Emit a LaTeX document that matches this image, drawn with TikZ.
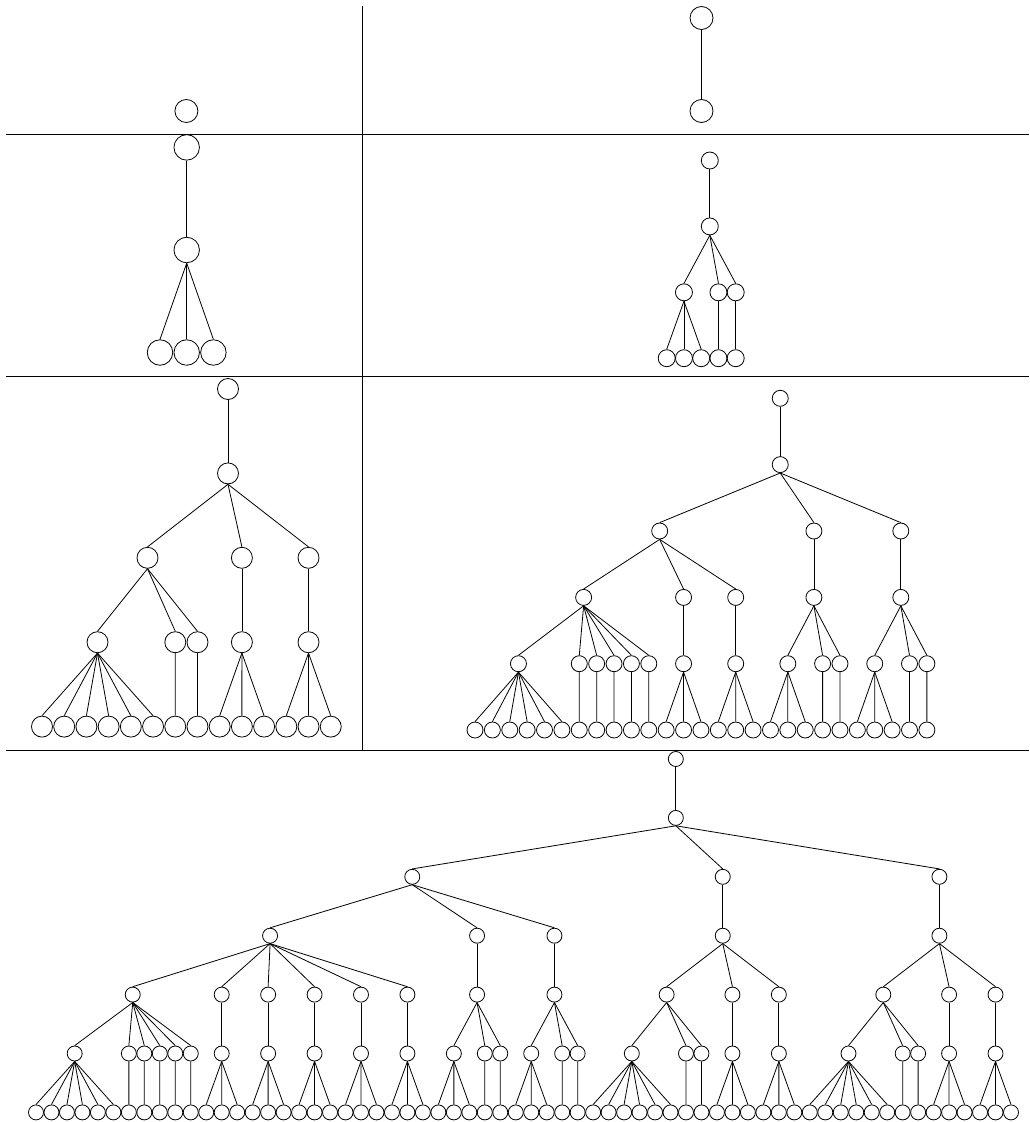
\documentclass[tikz,border=0pt]{standalone}
\begin{document}
\begin{tikzpicture}[x=1pt,y=-1pt,
  nd/.style={circle,draw,inner sep=0pt,line width=0.8pt},
  n1/.style={nd,minimum size=23pt},
  n3/.style={nd,minimum size=25.5pt},
  n4/.style={nd,minimum size=17pt},
  n5/.style={nd,minimum size=21pt},
  n6/.style={nd,minimum size=16pt},
  n7/.style={nd,minimum size=15pt},
  e/.style={line width=0.8pt},
  sep/.style={line width=1.1pt}]
\useasboundingbox (0,0) rectangle (1029,1122);
% separators
\draw[sep] (6,134.5) -- (1029,134.5);
\draw[sep] (6,376.5) -- (1029,376.5);
\draw[sep] (6,750.5) -- (1029,750.5);
\draw[sep] (362.5,6) -- (362.5,750.5);
% panel 1
\node[n1] (p1a) at (186.4,111) {};
% panel 2
\node[n1] (p2a) at (701.5,18) {};
\node[n1] (p2b) at (701.5,111) {};
\draw[e] (p2a.south) -- (p2b.north);
% panel 3
\node[n3] (p3r) at (186.7,147.4) {};
\node[n3] (p3m) at (186.7,250) {};
\foreach \i/\x in {1/160,2/186.7,3/213.4} \node[n3] (p3l\i) at (\x,352.5) {};
\draw[e] (p3r.south) -- (p3m.north);
\foreach \i in {1,2,3} \draw[e] (p3m.south) -- (p3l\i.north);
% panel 4
\node[n4] (p4r) at (709.8,160.5) {};
\node[n4] (p4m) at (709.8,226.4) {};
\node[n4] (p4a) at (683.95,292.3) {};
\node[n4] (p4b) at (718.45,292.3) {};
\node[n4] (p4c) at (735.7,292.3) {};
\foreach \i in {0,...,4} \node[n4] (p4l\i) at (666.7+17.25*\i,358.2) {};
\draw[e] (p4r.south) -- (p4m.north);
\foreach \c in {p4a,p4b,p4c} \draw[e] (p4m.south) -- (\c.north);
\foreach \i in {0,1,2} \draw[e] (p4a.south) -- (p4l\i.north);
\draw[e] (p4b.south) -- (p4l3.north);
\draw[e] (p4c.south) -- (p4l4.north);
% panel 5
\node[n5] (p5r) at (228,389) {};
\node[n5] (p5m) at (228,473.4) {};
\foreach \n/\x in {p5A/147.5,p5B/241.9,p5C/308.5} \node[n5] (\n) at (\x,557.8) {};
\foreach \n/\x in {p5A1/97.5,p5A2/175.3,p5A3/197.5,p5B4/241.9,p5C4/308.5} \node[n5] (\n) at (\x,642.2) {};
\foreach \i in {0,...,13} \node[n5] (p5l\i) at (42+22.21*\i,726.6) {};
\draw[e] (p5r.south) -- (p5m.north);
\foreach \c in {p5A,p5B,p5C} \draw[e] (p5m.south) -- (\c.north);
\foreach \c in {p5A1,p5A2,p5A3} \draw[e] (p5A.south) -- (\c.north);
\draw[e] (p5B.south) -- (p5B4.north);
\draw[e] (p5C.south) -- (p5C4.north);
\foreach \p/\a/\b in {p5A1/0/5,p5A2/6/6,p5A3/7/7,p5B4/8/10,p5C4/11/13}
  \foreach \i in {\a,...,\b} \draw[e] (\p.south) -- (p5l\i.north);
% panel 6
\node[n6] (p6r) at (780.24,398.3) {};
\node[n6] (p6m) at (780.24,464.6) {};
\foreach \n/\x in {p6A/659.67,p6B/813.91,p6C/900.81} \node[n6] (\n) at (\x,531) {};
\foreach \n/\x in {p6A1/583.63,p6A2/683.56,p6A3/735.7,p6B4/813.91,p6C4/900.81} \node[n6] (\n) at (\x,597.4) {};
\foreach \n/\x in {p6a/518.45,p6b/579.28,p6c/596.66,p6d/614.04,p6e/631.42,p6f/648.8,p6g/683.56,p6h/735.7,p6i/787.84,p6j/822.6,p6k/839.98,p6l/874.74,p6m5/909.5,p6n/926.88}
  \node[n6] (\n) at (\x,663.7) {};
\foreach \i in {0,...,26} \node[n6] (p6L\i) at (475+17.38*\i,730) {};
\draw[e] (p6r.south) -- (p6m.north);
\foreach \c in {p6A,p6B,p6C} \draw[e] (p6m.south) -- (\c.north);
\foreach \c in {p6A1,p6A2,p6A3} \draw[e] (p6A.south) -- (\c.north);
\draw[e] (p6B.south) -- (p6B4.north);
\draw[e] (p6C.south) -- (p6C4.north);
\foreach \c in {p6a,p6b,p6c,p6d,p6e,p6f} \draw[e] (p6A1.south) -- (\c.north);
\draw[e] (p6A2.south) -- (p6g.north);
\draw[e] (p6A3.south) -- (p6h.north);
\foreach \c in {p6i,p6j,p6k} \draw[e] (p6B4.south) -- (\c.north);
\foreach \c in {p6l,p6m5,p6n} \draw[e] (p6C4.south) -- (\c.north);
\foreach \p/\a/\b in {p6a/0/5,p6b/6/6,p6c/7/7,p6d/8/8,p6e/9/9,p6f/10/10,p6g/11/13,p6h/14/16,p6i/17/19,p6j/20/20,p6k/21/21,p6l/22/24,p6m5/25/25,p6n/26/26}
  \foreach \i in {\a,...,\b} \draw[e] (\p.south) -- (p6L\i.north);
% panel 7 (bottom)
\node[n7] (p7r) at (675.84,759) {};
\node[n7] (p7m) at (675.84,817.9) {};
\foreach \n/\x in {c0/412.27,c1/722.75,c2/939.41} \node[n7] (\n) at (\x,876.8) {};
\foreach \n/\x in {d0/270.08,d1/477.07,d2/554.45,d3/722.75,d4/939.41} \node[n7] (\n) at (\x,935.7) {};
\foreach \n/\x in {f0/132.73,f1/221.71,f2/268.14,f3/314.57,f4/361.0,f5/407.42,f6/477.07,f7/554.45,f8/666.65,f9/732.42,f10/778.85,f11/883.31,f12/949.08,f13/995.51}
  \node[n7] (\n) at (\x,994.6) {};
\foreach \n/\x in {q0/74.69,q1/128.86,q2/144.33,q3/159.81,q4/175.29,q5/190.76,q6/221.71,q7/268.14,q8/314.57,q9/361.0,q10/407.42,q11/453.85,q12/484.80,q13/500.28,q14/531.23,q15/562.18,q16/577.66,q17/631.83,q18/685.99,q19/701.47,q20/732.42,q21/778.85,q22/848.49,q23/902.66,q24/918.13,q25/949.08,q26/995.51}
  \node[n7] (\n) at (\x,1053.5) {};
\foreach \i in {0,...,63} \node[n7] (p7l\i) at (36+15.476*\i,1112.4) {};
\draw[e] (p7r.south) -- (p7m.north);
\foreach \c in {c0,c1,c2} \draw[e] (p7m.south) -- (\c.north);
\foreach \c in {d0,d1,d2} \draw[e] (c0.south) -- (\c.north);
\draw[e] (c1.south) -- (d3.north);
\draw[e] (c2.south) -- (d4.north);
\foreach \c in {f0,f1,f2,f3,f4,f5} \draw[e] (d0.south) -- (\c.north);
\draw[e] (d1.south) -- (f6.north);
\draw[e] (d2.south) -- (f7.north);
\foreach \c in {f8,f9,f10} \draw[e] (d3.south) -- (\c.north);
\foreach \c in {f11,f12,f13} \draw[e] (d4.south) -- (\c.north);
\foreach \c in {q0,q1,q2,q3,q4,q5} \draw[e] (f0.south) -- (\c.north);
\foreach \p/\c in {f1/q6,f2/q7,f3/q8,f4/q9,f5/q10,f9/q20,f10/q21,f12/q25,f13/q26} \draw[e] (\p.south) -- (\c.north);
\foreach \c in {q11,q12,q13} \draw[e] (f6.south) -- (\c.north);
\foreach \c in {q14,q15,q16} \draw[e] (f7.south) -- (\c.north);
\foreach \c in {q17,q18,q19} \draw[e] (f8.south) -- (\c.north);
\foreach \c in {q22,q23,q24} \draw[e] (f11.south) -- (\c.north);
\foreach \p/\a/\b in {q0/0/5,q1/6/6,q2/7/7,q3/8/8,q4/9/9,q5/10/10,q6/11/13,q7/14/16,q8/17/19,q9/20/22,q10/23/25,q11/26/28,q12/29/29,q13/30/30,q14/31/33,q15/34/34,q16/35/35,q17/36/41,q18/42/42,q19/43/43,q20/44/46,q21/47/49,q22/50/55,q23/56/56,q24/57/57,q25/58/60,q26/61/63}
  \foreach \i in {\a,...,\b} \draw[e] (\p.south) -- (p7l\i.north);
\end{tikzpicture}
\end{document}
